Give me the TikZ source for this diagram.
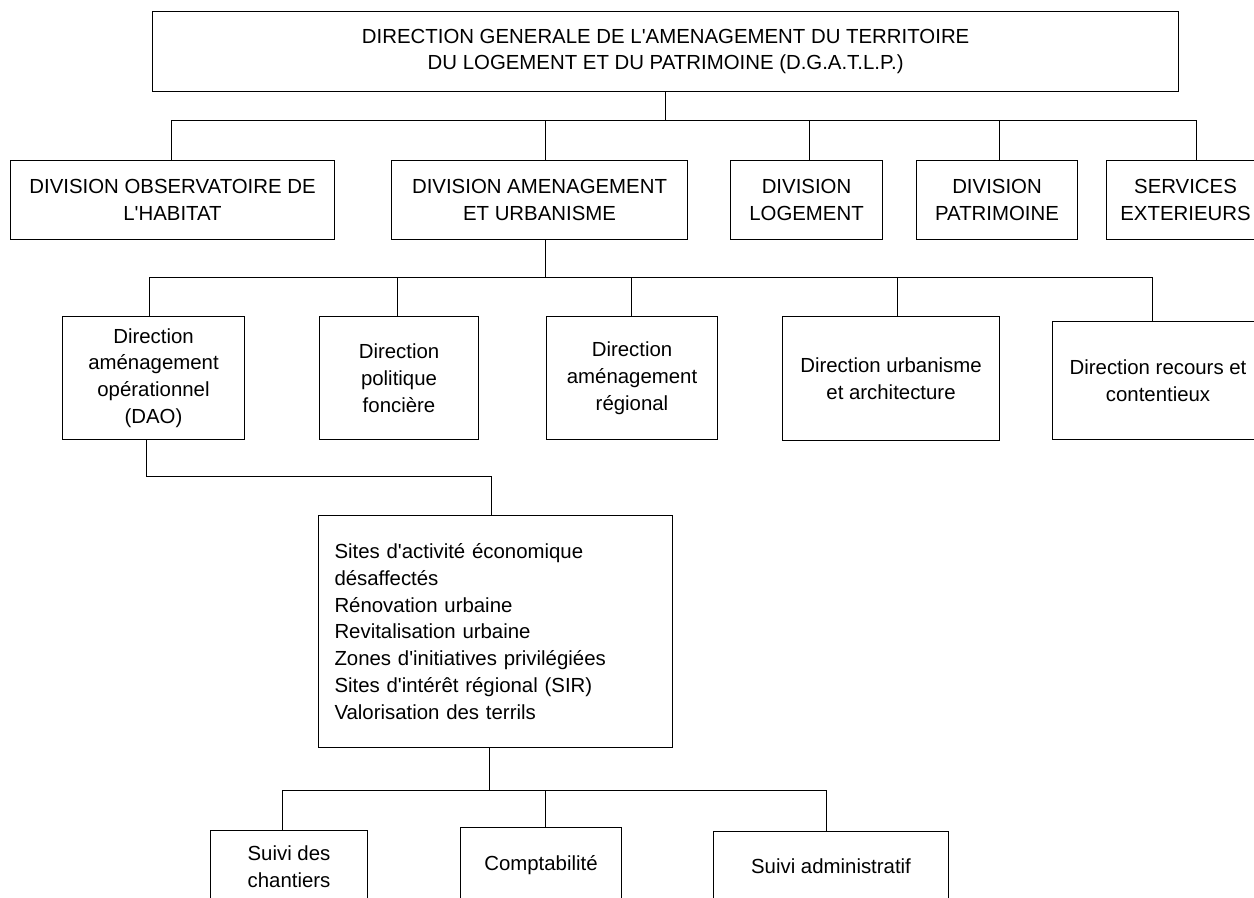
\documentclass[tikz,border=0pt]{standalone}
\usepackage{fontspec}
\setmainfont{Liberation Sans}
\newcommand{\apos}{\textquotesingle}
\tikzset{
  unit/.style={draw, line width=0.7pt, anchor=north west, align=center, inner sep=2pt,
    font=\fontsize{14.5}{19}\selectfont},
  link/.style={line width=0.7pt},
}
\begin{document}
\begin{tikzpicture}[x=0.025cm, y=-0.025cm]
  \useasboundingbox (0,0) rectangle (1254,897);
  % direction generale
  \node[unit, minimum width=25.65cm, minimum height=2cm] (dg) at (152,11)
    {DIRECTION GENERALE DE L\apos AMENAGEMENT DU TERRITOIRE\\DU LOGEMENT ET DU PATRIMOINE (D.G.A.T.L.P.)};
  % divisions
  \node[unit, minimum width=8.1cm, minimum height=1.975cm] (obs) at (10,160)
    {DIVISION OBSERVATOIRE DE\\L\apos HABITAT};
  \node[unit, minimum width=7.4cm, minimum height=1.975cm] (amen) at (391,160)
    {DIVISION AMENAGEMENT\\ET URBANISME};
  \node[unit, minimum width=3.8cm, minimum height=1.975cm] (loge) at (730,160)
    {DIVISION\\LOGEMENT};
  \node[unit, minimum width=4.025cm, minimum height=1.975cm] (patr) at (916,160)
    {DIVISION\\PATRIMOINE};
  \node[unit, minimum width=3.95cm, minimum height=1.975cm] (serv) at (1106,160)
    {SERVICES\\EXTERIEURS};
  % directions
  \node[unit, minimum width=4.55cm, minimum height=3.075cm] (dao) at (62,316)
    {Direction\\aménagement\\opérationnel\\(DAO)};
  \node[unit, minimum width=3.975cm, minimum height=3.075cm] (pol) at (319,316)
    {Direction\\politique\\foncière};
  \node[unit, minimum width=4.275cm, minimum height=3.075cm] (reg) at (546,316)
    {Direction\\aménagement\\régional};
  \node[unit, minimum width=5.425cm, minimum height=3.1cm] (urb) at (782,316)
    {Direction urbanisme\\et architecture};
  \node[unit, minimum width=5.275cm, minimum height=2.95cm] (rec) at (1052,321)
    {Direction recours et\\contentieux};
  % missions DAO
  \node[unit, align=left, text width=8.05cm, minimum width=8.85cm, minimum height=5.8cm] (sites) at (318,515)
    {Sites d\apos activité économique\\désaffectés\\Rénovation urbaine\\Revitalisation urbaine\\Zones d\apos initiatives privilégiées\\Sites d\apos intérêt régional (SIR)\\Valorisation des terrils};
  \node[unit, minimum width=3.925cm, minimum height=1.8cm] (chan) at (210,830)
    {Suivi des\\chantiers};
  \node[unit, minimum width=4.025cm, minimum height=1.875cm] (comp) at (460,827)
    {Comptabilité};
  \node[unit, minimum width=5.875cm, minimum height=1.75cm] (adm) at (713,831)
    {Suivi administratif};

  % liaisons
  \foreach \x/\n in {171/obs,545/amen,809/loge,999/patr,1196/serv}
    \draw[link] (\x,120) coordinate (t-\n) -- (t-\n |- \n.north);
  \draw[link] (t-obs) -- (t-serv);
  \draw[link] (dg.south) -- (dg.south |- t-obs);

  \foreach \x/\n in {149/dao,397/pol,631/reg,897/urb,1152/rec}
    \draw[link] (\x,277) coordinate (u-\n) -- (u-\n |- \n.north);
  \draw[link] (u-dao) -- (u-rec);
  \draw[link] (t-amen |- amen.south) -- (t-amen |- u-dao);

  \coordinate (v-dao) at (146,476);
  \coordinate (v-sites) at (491,476);
  \draw[link] (v-dao |- dao.south) -- (v-dao) -- (v-sites) -- (v-sites |- sites.north);

  \foreach \x/\n in {282/chan,545/comp,826/adm}
    \draw[link] (\x,790) coordinate (w-\n) -- (w-\n |- \n.north);
  \draw[link] (w-chan) -- (w-adm);
  \coordinate (w-sites) at (489,790);
  \draw[link] (w-sites |- sites.south) -- (w-sites);
\end{tikzpicture}
\end{document}
